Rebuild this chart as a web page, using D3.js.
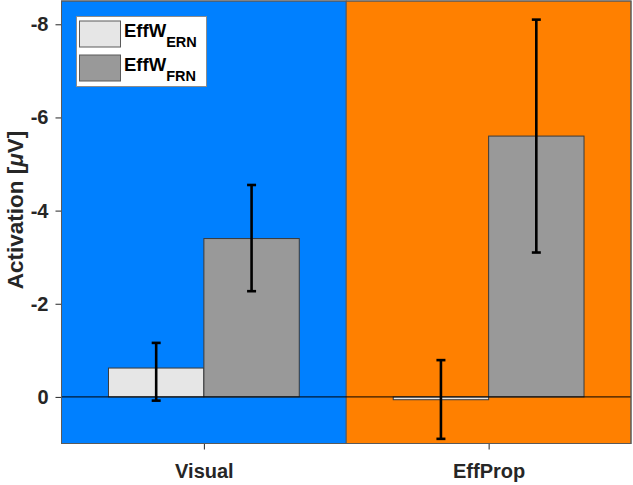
<!DOCTYPE html>
<html>
<head>
<meta charset="utf-8">
<script src="https://cdn.jsdelivr.net/npm/d3@7"></script>
<style>
  html, body { margin: 0; padding: 0; background: #ffffff; }
  svg { display: block; font-family: "Liberation Sans", Arial, Helvetica, sans-serif; }
</style>
</head>
<body>
<svg id="chart" width="633" height="485"></svg>
<script>
// ---- data ----
const categories = ["Visual", "EffProp"];
const seriesNames = ["ERN", "FRN"];
const ernValues = [-0.62, 0.06];
const frnValues = [-3.40, -5.60];
const ernErrMin = [-1.16, -0.79];
const ernErrMax = [0.08, 0.90];
const frnErrMin = [-4.55, -8.10];
const frnErrMax = [-2.27, -3.10];
const yTicks = [0, -2, -4, -6, -8];
const panelColors = ["#0080ff", "#ff8000"];
const seriesColors = ["#e6e6e6", "#999999"];

// ---- layout ----
const plotLeft = 61.5, plotRight = 631, plotTop = 1, plotBottom = 443.5;
const textColor = "#262626";

const svg = d3.select("#chart");
const x = d3.scaleLinear().domain([0.5, 2.5]).range([plotLeft, plotRight]);
const y = d3.scaleLinear().domain([1, -8.5]).range([plotBottom, plotTop]);
const barW = 0.335; // in category units

// panels
svg.append("g").selectAll("rect").data(categories).join("rect")
  .attr("x", (d, i) => x(i + 0.5))
  .attr("y", plotTop)
  .attr("width", (d, i) => x(i + 1.5) - x(i + 0.5))
  .attr("height", plotBottom - plotTop)
  .attr("fill", (d, i) => panelColors[i])
  .attr("stroke", "#5a5a5a")
  .attr("stroke-width", 1);

const series = [
  { name: seriesNames[0], values: ernValues, lo: ernErrMin, hi: ernErrMax, color: seriesColors[0], off: -1 },
  { name: seriesNames[1], values: frnValues, lo: frnErrMin, hi: frnErrMax, color: seriesColors[1], off: 0 }
];

// bars
const gBars = svg.append("g");
series.forEach(s => {
  gBars.selectAll(null).data(s.values).join("rect")
    .attr("x", (d, i) => x(i + 1 + s.off * barW))
    .attr("width", x(1 + barW) - x(1))
    .attr("y", d => Math.min(y(d), y(0)))
    .attr("height", d => Math.abs(y(d) - y(0)))
    .attr("fill", s.color)
    .attr("stroke", "#3a3a3a")
    .attr("stroke-width", 1);
});

// zero line
svg.append("line")
  .attr("x1", plotLeft).attr("x2", plotRight)
  .attr("y1", y(0)).attr("y2", y(0))
  .attr("stroke", "#000").attr("stroke-width", 1);

// error bars
const gErr = svg.append("g").attr("stroke", "#000").attr("stroke-width", 2.6);
series.forEach(s => {
  s.values.forEach((v, i) => {
    const cx = x(i + 1 + (s.off + 0.5) * barW);
    gErr.append("line").attr("x1", cx).attr("x2", cx).attr("y1", y(s.lo[i])).attr("y2", y(s.hi[i]));
    [s.lo[i], s.hi[i]].forEach(e => {
      gErr.append("line").attr("x1", cx - 4.5).attr("x2", cx + 4.5).attr("y1", y(e)).attr("y2", y(e));
    });
  });
});

// axes
const yAxis = svg.append("g").attr("transform", `translate(${plotLeft},0)`)
  .call(d3.axisLeft(y).tickValues(yTicks).tickSize(6).tickPadding(7).tickFormat(d => String(d)));
const xAxis = svg.append("g").attr("transform", `translate(0,${plotBottom})`)
  .call(d3.axisBottom(x).tickValues([1, 2]).tickSize(6).tickPadding(14).tickFormat((d, i) => categories[i]));
[yAxis, xAxis].forEach(a => {
  a.select(".domain").remove();
  a.selectAll(".tick line").attr("stroke", textColor);
  a.selectAll(".tick text").attr("fill", textColor)
    .style("font-size", "20px").style("font-weight", "bold")
    .style("font-family", '"Liberation Sans", Arial, sans-serif');
});

// frame
svg.append("rect").attr("x", plotLeft).attr("y", plotTop)
  .attr("width", plotRight - plotLeft).attr("height", plotBottom - plotTop)
  .attr("fill", "none").attr("stroke", "#5a5a5a").attr("stroke-width", 1);

// y label
const yl = svg.append("text")
  .attr("transform", `translate(23,210) rotate(-90)`)
  .attr("text-anchor", "middle")
  .attr("fill", textColor)
  .style("font-size", "22.5px").style("font-weight", "bold");
yl.append("tspan").text("Activation [");
yl.append("tspan").attr("font-style", "italic").text("\u03bc");
yl.append("tspan").text("V]");

// legend
const lg = svg.append("g");
lg.append("rect").attr("x", 76.5).attr("y", 16.5).attr("width", 130).attr("height", 70)
  .attr("fill", "#fff").attr("stroke", "#8c8c8c").attr("stroke-width", 1);
series.forEach((s, i) => {
  const oy = 21 + i * 34;
  lg.append("rect").attr("x", 79.5).attr("y", oy).attr("width", 41).attr("height", 26)
    .attr("fill", s.color).attr("stroke", "#5a5a5a").attr("stroke-width", 1);
  const t = lg.append("text").attr("x", 124).attr("y", oy + 16)
    .attr("fill", "#000").style("font-size", "18.5px").style("font-weight", "bold");
  t.append("tspan").text("EffW");
  t.append("tspan").attr("dy", 10).style("font-size", "14.5px").text(s.name);
});
</script>
</body>
</html>
